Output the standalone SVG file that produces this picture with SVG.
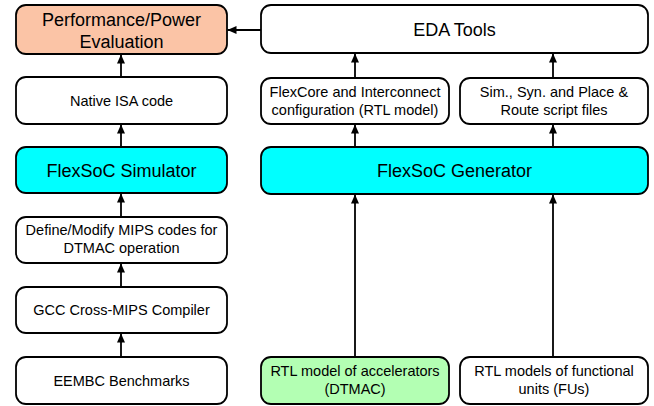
<svg xmlns="http://www.w3.org/2000/svg" width="654" height="406" viewBox="0 0 654 406">
<style>
.box{stroke:#000;stroke-width:1.8;fill:#fff}
.t{font-family:"Liberation Sans",Arial,sans-serif;fill:#000;text-anchor:middle}
.big{font-size:18px}
.sm{font-size:14.5px}
.c{stroke:#000;stroke-width:1.8;fill:none;marker-end:url(#ah)}
</style>
<defs>
<marker id="ah" markerUnits="userSpaceOnUse" markerWidth="9" markerHeight="8" refX="9" refY="4" orient="auto">
<path d="M0,0 L9,4 L0,8 z" fill="#000"/>
</marker>
</defs>
<rect width="654" height="406" fill="#fff"/>
<g id="perf"><rect class="box" x="16" y="5" width="211" height="49" rx="10" style="fill:#FBC4A6"/><text class="t big" x="121.5" y="26">Performance/Power</text><text class="t big" x="121.5" y="48">Evaluation</text></g>
<g id="native"><rect class="box" x="16" y="77" width="211" height="47" rx="10"/><text class="t sm" x="121.5" y="105.5">Native ISA code</text></g>
<g id="simulator"><rect class="box" x="16" y="147" width="211" height="46" rx="10" style="fill:#00FFFF"/><text class="t big" x="121.5" y="176.5">FlexSoC Simulator</text></g>
<g id="define"><rect class="box" x="16" y="217" width="211" height="46" rx="10"/><text class="t sm" x="121.5" y="235">Define/Modify MIPS codes for</text><text class="t sm" x="121.5" y="253">DTMAC operation</text></g>
<g id="gcc"><rect class="box" x="16" y="287" width="211" height="46" rx="10"/><text class="t sm" x="121.5" y="315">GCC Cross-MIPS Compiler</text></g>
<g id="eembc"><rect class="box" x="16" y="357" width="211" height="47" rx="10"/><text class="t sm" x="121.5" y="385.5">EEMBC Benchmarks</text></g>
<g id="eda"><rect class="box" x="261" y="5" width="387" height="48" rx="10"/><text class="t big" x="454.5" y="35.5">EDA Tools</text></g>
<g id="flexcore"><rect class="box" x="261" y="78" width="188" height="46" rx="10"/><text class="t sm" x="355" y="96.5">FlexCore and Interconnect</text><text class="t sm" x="355" y="114.5">configuration (RTL model)</text></g>
<g id="scripts"><rect class="box" x="460" y="78" width="188" height="46" rx="10"/><text class="t sm" x="554" y="96.5">Sim., Syn. and Place &amp;</text><text class="t sm" x="554" y="114.5">Route script files</text></g>
<g id="generator"><rect class="box" x="261" y="147" width="387" height="47" rx="10" style="fill:#00FFFF"/><text class="t big" x="454.5" y="177">FlexSoC Generator</text></g>
<g id="accel"><rect class="box" x="261" y="357" width="188" height="47" rx="10" style="fill:#B3FFB3"/><text class="t sm" x="355" y="375.5">RTL model of accelerators</text><text class="t sm" x="355" y="393.5">(DTMAC)</text></g>
<g id="fus"><rect class="box" x="460" y="357" width="188" height="47" rx="10"/><text class="t sm" x="554" y="375.5">RTL models of functional</text><text class="t sm" x="554" y="393.5">units (FUs)</text></g>
<g id="connectors">
<line class="c" x1="121" y1="77" x2="121" y2="54.5"/>
<line class="c" x1="121" y1="147" x2="121" y2="124.5"/>
<line class="c" x1="121" y1="217" x2="121" y2="193.5"/>
<line class="c" x1="121" y1="287" x2="121" y2="263.5"/>
<line class="c" x1="121" y1="357" x2="121" y2="333.5"/>
<line class="c" x1="355" y1="78" x2="355" y2="53.5"/>
<line class="c" x1="553" y1="78" x2="553" y2="53.5"/>
<line class="c" x1="355" y1="147" x2="355" y2="124.5"/>
<line class="c" x1="553" y1="147" x2="553" y2="124.5"/>
<line class="c" x1="355" y1="357" x2="355" y2="194.5"/>
<line class="c" x1="553" y1="357" x2="553" y2="194.5"/>
<line class="c" x1="261" y1="30" x2="227.5" y2="30"/>
</g>
</svg>
